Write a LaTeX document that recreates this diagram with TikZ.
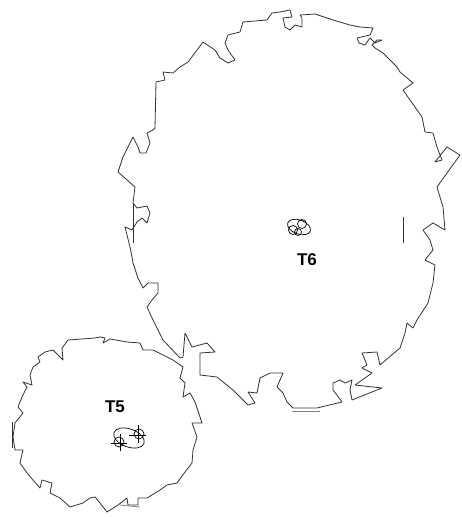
\documentclass[tikz,border=0pt]{standalone}
\usepackage{fontspec}
\setmainfont{Liberation Sans}

\begin{document}
\begin{tikzpicture}[x=1pt, y=-1pt, line width=0.8pt,
        edge/.style={draw=black!80, line join=round},
        tag/.style={font=\bfseries\fontsize{17}{17}\selectfont},
        ring/.style={draw, line width=0.7pt}]
    \useasboundingbox (0,0) rectangle (462,517);

    % T6 outline
    \draw[edge] (132,257) -- (130,247) -- (127,235) -- (125,227) -- (132,230) -- (137,222)
        -- (142,218) -- (147,223) -- (150,213) -- (147,206) -- (137,208) -- (133,203)
        -- (135,187) -- (118,172) -- (123,157) -- (133,137) -- (138,147) -- (140,153)
        -- (146,153) -- (150,143) -- (147,133) -- (153,130) -- (155,128) -- (156,82)
        -- (165,80) -- (163,72) -- (173,73) -- (180,67) -- (188,62) -- (203,42)
        -- (215,50) -- (220,58) -- (228,63) -- (235,60) -- (228,50) -- (225,43)
        -- (228,35) -- (240,32) -- (243,22) -- (267,20) -- (272,13) -- (280,12)
        -- (290,10) -- (292,17) -- (283,18) -- (285,27) -- (290,30) -- (295,25)
        -- (302,27) -- (302,18) -- (300,15) -- (315,14) -- (333,20) -- (350,25)
        -- (360,27) -- (373,28) -- (370,35) -- (357,38) -- (359,43) -- (365,45)
        -- (370,38) -- (375,43) -- (382,40) -- (377,40) -- (372,45) -- (375,48)
        -- (383,53) -- (397,67) -- (400,72) -- (413,83) -- (403,90) -- (422,117)
        -- (425,132) -- (433,133) -- (437,147) -- (442,160) -- (435,162) -- (447,147)
        -- (460,155) -- (437,187) -- (443,207) -- (445,230) -- (433,223) -- (423,230)
        -- (430,240) -- (433,250) -- (425,260) -- (435,265) -- (433,283) -- (428,303)
        -- (417,320) -- (413,328) -- (407,323) -- (405,333) -- (400,348) -- (380,365)
        -- (377,352) -- (362,353) -- (367,365) -- (362,368) -- (372,373) -- (355,385)
        -- (382,388) -- (352,400) -- (350,390) -- (352,380) -- (345,383) -- (340,380)
        -- (333,383) -- (333,390) -- (337,395) -- (342,402) -- (317,408) -- (293,408)
        -- (287,402) -- (283,393) -- (277,387) -- (283,373) -- (270,373) -- (260,378)
        -- (257,393) -- (248,392) -- (255,403) -- (248,405) -- (233,390) -- (217,377)
        -- (200,375) -- (200,353) -- (215,352) -- (207,343) -- (192,347) -- (185,333)
        -- (183,357) -- (180,358) -- (163,340) -- (153,320) -- (147,307) -- (152,300)
        -- (158,293) -- (158,283) -- (148,283) -- (143,288) -- (138,278) -- (133,263)
        -- (132,257);
    \draw[edge] (133,203) -- (133,243);
    \draw[edge] (403,217) -- (403,243);
    \draw[edge, draw=black!50] (292,411) -- (320,411);

    % T5 outline
    \draw[edge] (68,340) -- (95,338) -- (100,337) -- (105,338) -- (103,343) -- (110,339)
        -- (127,342) -- (140,343) -- (143,350) -- (153,350) -- (163,355) -- (173,360)
        -- (183,367) -- (180,378) -- (185,383) -- (183,397) -- (190,393) -- (195,402)
        -- (202,423) -- (192,423) -- (197,437) -- (193,450) -- (192,463) -- (185,472)
        -- (177,483) -- (167,485) -- (160,490) -- (147,498) -- (138,498) -- (138,505)
        -- (128,505) -- (127,498) -- (118,505) -- (107,512) -- (100,503) -- (95,497)
        -- (90,498) -- (83,503) -- (70,507) -- (60,498) -- (50,493) -- (52,483)
        -- (42,480) -- (40,488) -- (33,480) -- (27,473) -- (20,463) -- (23,450)
        -- (15,450) -- (13,437) -- (15,423) -- (23,413) -- (18,407) -- (22,397)
        -- (27,387) -- (23,382) -- (32,385) -- (30,375) -- (33,367) -- (40,362)
        -- (38,357) -- (45,352) -- (53,350) -- (60,357) -- (63,360) -- (62,348)
        -- (68,340);
    \draw[edge] (12,422) -- (12,448);
    \draw[edge, draw=black!50] (120,505) -- (140,507);

    % T6 markers
    \draw[ring] (299,227) ellipse [x radius=12, y radius=7, rotate=-20];
    \draw[ring] (293,230) circle (4.5);
    \draw[ring] (302,224) circle (4.5);
    \draw[ring] (298,232) circle (3.5);
    \node[tag] (t6) at (307,260) {T6};

    % T5 markers
    \draw[ring] (129,438) ellipse [x radius=16, y radius=9, rotate=-20];
    \draw[ring] (119,442) circle (5);
    \draw[ring] (139,434) circle (5);
    \draw[line width=0.8pt] (111,443) -- (127,443) (120,434) -- (120,451);
    \draw[line width=0.8pt] (129,435) -- (146,435) (138,425) -- (138,443);
    \node[tag] (t5) at (115,407) {T5};
\end{tikzpicture}
\end{document}
